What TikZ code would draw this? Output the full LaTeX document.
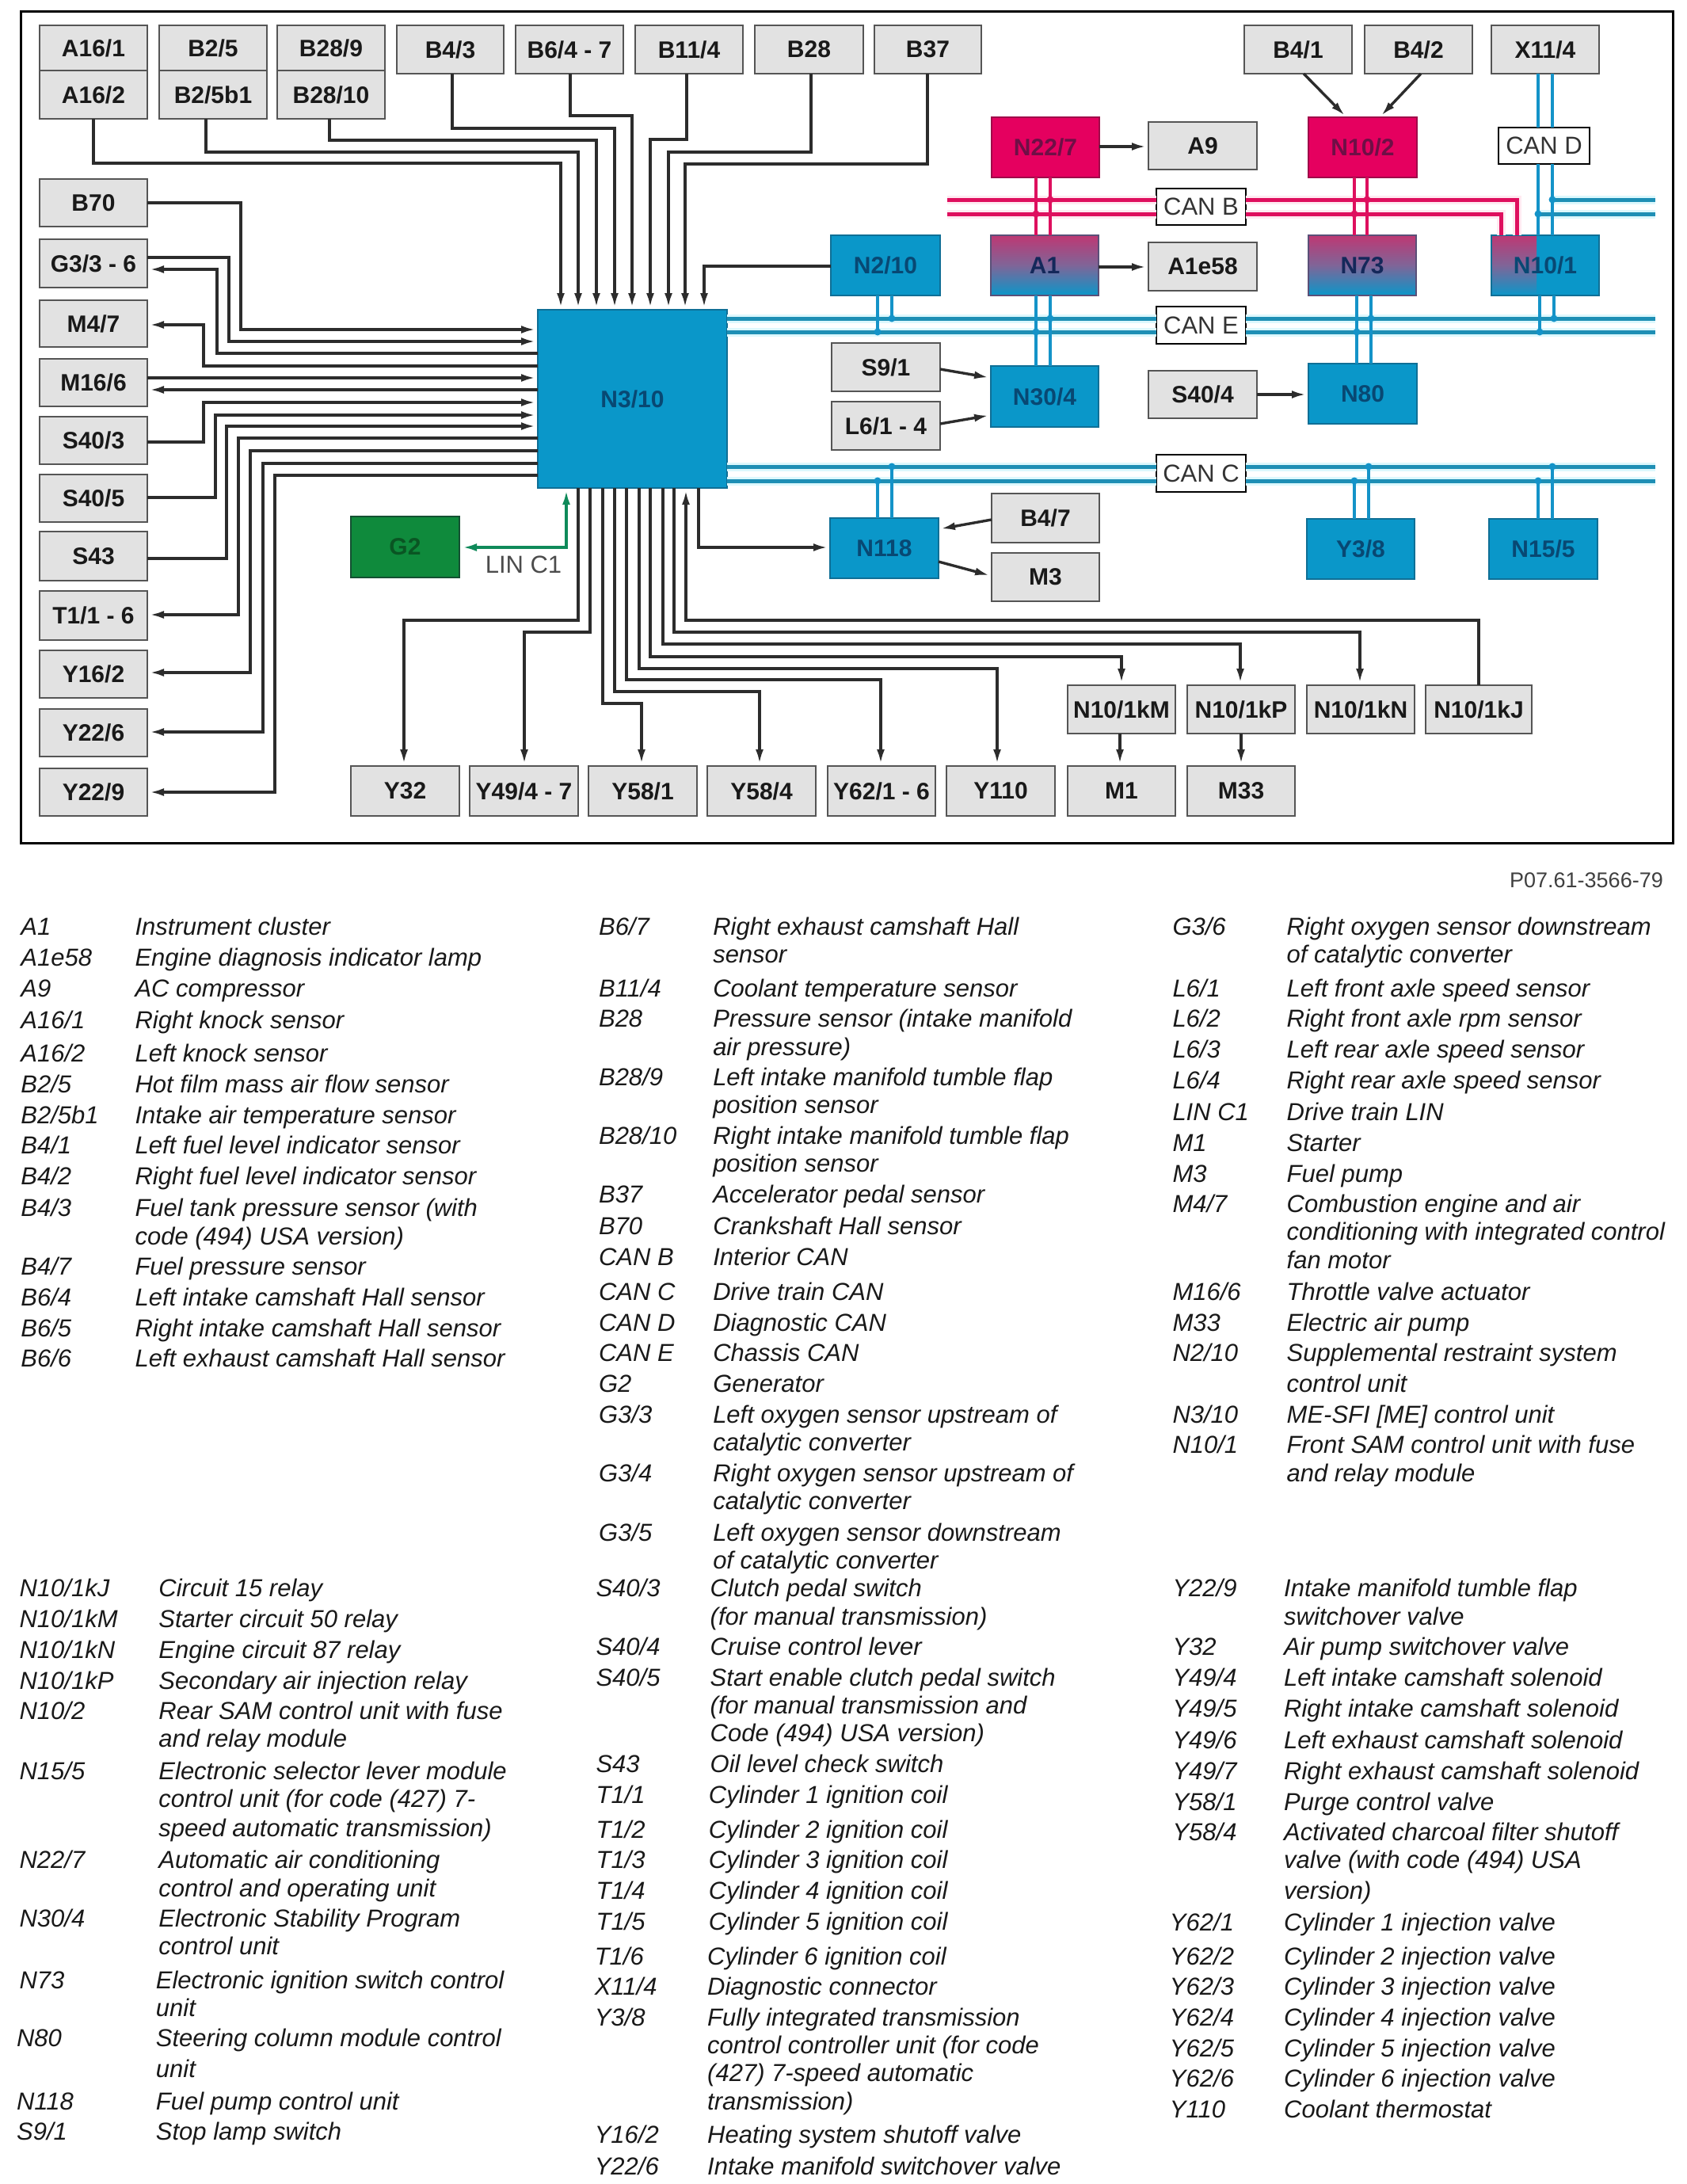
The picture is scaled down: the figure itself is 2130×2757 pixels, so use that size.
\documentclass[tikz,border=0pt]{standalone}
\usepackage{fontspec}
\setmainfont{Liberation Sans}
\usetikzlibrary{arrows.meta,calc}
\definecolor{gfill}{HTML}{E2E2E2}
\definecolor{gline}{HTML}{555555}
\definecolor{bfill}{HTML}{0A97C9}
\definecolor{bline}{HTML}{0F6F96}
\definecolor{pfill}{HTML}{E5005F}
\definecolor{pline}{HTML}{A00A4A}
\definecolor{gnfill}{HTML}{0F8A3C}
\definecolor{wire}{HTML}{2C2C2C}
\definecolor{busb}{HTML}{1E8FB5}
\definecolor{vbus}{HTML}{1493C8}
\definecolor{busp}{HTML}{DE0F5E}
\definecolor{halob}{HTML}{DDF8FD}
\definecolor{halop}{HTML}{FFEAF1}
\definecolor{lintxt}{HTML}{0F8A5A}
\definecolor{mtop}{HTML}{BE3873}
\definecolor{mmid}{HTML}{7F6598}
\newcounter{lgn}
\newcommand\bx[7]{%
 \pgfmathsetmacro\bxw{#5-#3}\pgfmathsetmacro\bxh{#6-#4}%
 \pgfmathsetmacro\bxc{(#3+#5)/2}\pgfmathsetmacro\byc{(#4+#6)/2}%
 \node[#1,minimum width=\bxw pt,minimum height=\bxh pt] (#2) at (\bxc,\byc) {#7};}
\newcommand\setcol[2]{\def\xA{#1}\def\xB{#2}}
\newcommand\EE[3]{%
 \stepcounter{lgn}%
 \pgfmathsetmacro\ly{#1*1.7583+11.5}\pgfmathsetmacro\la{\xA*1.7583}\pgfmathsetmacro\lb{\xB*1.7583}%
 \node[lgt] (lc\arabic{lgn}) at (\la,\ly) {#2};
 \node[lgt] (lt\arabic{lgn}) at (\lb,\ly) {#3};}
\newcommand\CC[2]{%
 \stepcounter{lgn}%
 \pgfmathsetmacro\ly{#1*1.7583+11.5}\pgfmathsetmacro\lb{\xB*1.7583}%
 \node[lgt] (lt\arabic{lgn}) at (\lb,\ly) {#2};}
\begin{document}
\begin{tikzpicture}[x=1pt,y=-1pt,
 boxbase/.style={draw,inner sep=0pt,outer sep=0pt,line width=2.8pt,font=\fontsize{30}{36}\selectfont\bfseries},
 gbox/.style={boxbase,fill=gfill,draw=gline,text=black!90},
 bbox/.style={boxbase,fill=bfill,draw=bline,text={rgb,255:red,8;green,72;blue,115}},
 pbox/.style={boxbase,fill=pfill,draw=pline,text={rgb,255:red,110;green,15;blue,70}},
 mbox/.style={boxbase,top color=mtop,bottom color=bfill,middle color=mmid,draw={rgb,255:red,90;green,80;blue,120},text={rgb,255:red,20;green,40;blue,90}},
 grbox/.style={boxbase,fill=gnfill,draw={rgb,255:red,20;green,80;blue,50},text={rgb,255:red,10;green,85;blue,35}},
 canbox/.style={draw=black,fill=white,line width=2.6pt,inner sep=0pt,outer sep=0pt,font=\fontsize{31}{36}\selectfont,text=black!80},
 conn/.style={draw=wire,line width=3.4pt,line join=miter},
 arr/.style={conn,-{Latex[length=18pt,width=10pt]},shorten >=3pt},
 greenarr/.style={draw=lintxt,line width=3.4pt,{Latex[length=18pt,width=10pt]}-{Latex[length=18pt,width=10pt]},shorten >=3pt,shorten <=4pt},
 bh/.style={draw=busb,line width=5pt,preaction={draw=halob,line width=11pt}},
 ph/.style={draw=busp,line width=5pt,preaction={draw=halop,line width=11pt}},
 bv/.style={draw=vbus,line width=3.5pt},
 pv/.style={draw=busp,line width=3.5pt},
 lgt/.style={anchor=base west,inner sep=0pt,outer sep=0pt,font=\fontsize{31}{36}\selectfont\itshape,text=black!90},
]
\useasboundingbox (0,0) rectangle (2130,2757);
\fill[white] (0,0) rectangle (2130,2757);
\draw[black,line width=3pt] (26,14) rectangle (2112,1064);

\bx{gbox}{A161}{50}{32}{186}{89}{A16/1}
\bx{gbox}{A162}{50}{89}{186}{150}{A16/2}
\bx{gbox}{B25}{201}{32}{337}{89}{B2/5}
\bx{gbox}{B25b}{201}{89}{337}{150}{B2/5b1}
\bx{gbox}{B289}{350}{32}{486}{89}{B28/9}
\bx{gbox}{B2810}{350}{89}{486}{150}{B28/10}
\bx{gbox}{B43}{501}{32}{636}{93}{B4/3}
\bx{gbox}{B647}{651}{32}{787}{93}{B6/4 - 7}
\bx{gbox}{B114}{802}{32}{938}{93}{B11/4}
\bx{gbox}{B28}{953}{32}{1090}{93}{B28}
\bx{gbox}{B37}{1104}{32}{1239}{93}{B37}
\bx{gbox}{B70}{50}{226}{186}{286}{B70}
\bx{gbox}{G33}{50}{302}{186}{363}{G3/3 - 6}
\bx{gbox}{M47}{50}{379}{186}{438}{M4/7}
\bx{gbox}{M166}{50}{453}{186}{513}{M16/6}
\bx{gbox}{S403}{50}{526}{186}{586}{S40/3}
\bx{gbox}{S405}{50}{599}{186}{659}{S40/5}
\bx{gbox}{S43}{50}{671}{186}{733}{S43}
\bx{gbox}{T11}{50}{746}{186}{808}{T1/1 - 6}
\bx{gbox}{Y162}{50}{821}{186}{881}{Y16/2}
\bx{gbox}{Y226}{50}{895}{186}{955}{Y22/6}
\bx{gbox}{Y229}{50}{970}{186}{1030}{Y22/9}
\bx{bbox}{N310}{679}{391}{918}{616}{N3/10}
\bx{grbox}{G2}{443}{652}{580}{729}{G2}
\bx{gbox}{Y32}{443}{967}{580}{1030}{Y32}
\bx{gbox}{Y49}{593}{967}{730}{1030}{Y49/4 - 7}
\bx{gbox}{Y581}{743}{967}{880}{1030}{Y58/1}
\bx{gbox}{Y584}{893}{967}{1030}{1030}{Y58/4}
\bx{gbox}{Y62}{1045}{967}{1181}{1030}{Y62/1 - 6}
\bx{gbox}{Y110}{1195}{967}{1332}{1030}{Y110}
\bx{gbox}{M1}{1348}{967}{1484}{1030}{M1}
\bx{gbox}{M33}{1499}{967}{1635}{1030}{M33}
\bx{gbox}{kM}{1348}{865}{1484}{926}{N10/1kM}
\bx{gbox}{kP}{1499}{865}{1635}{926}{N10/1kP}
\bx{gbox}{kN}{1650}{865}{1786}{926}{N10/1kN}
\bx{gbox}{kJ}{1800}{865}{1934}{926}{N10/1kJ}
\bx{bbox}{N118}{1048}{654}{1185}{730}{N118}
\bx{bbox}{Y38}{1650}{655}{1786}{731}{Y3/8}
\bx{bbox}{N155}{1880}{655}{2017}{731}{N15/5}
\bx{gbox}{B47}{1252}{623}{1388}{685}{B4/7}
\bx{gbox}{M3}{1252}{698}{1388}{759}{M3}
\bx{pbox}{N227}{1252}{148}{1388}{224}{N22/7}
\bx{gbox}{A9}{1450}{154}{1587}{214}{A9}
\bx{pbox}{N102}{1652}{148}{1789}{224}{N10/2}
\bx{gbox}{B41}{1571}{32}{1707}{93}{B4/1}
\bx{gbox}{B42}{1723}{32}{1859}{93}{B4/2}
\bx{gbox}{X114}{1883}{32}{2019}{93}{X11/4}
\bx{bbox}{N210}{1049}{297}{1187}{373}{N2/10}
\bx{mbox}{A1}{1251}{297}{1387}{373}{A1}
\bx{gbox}{A1e}{1450}{306}{1587}{367}{A1e58}
\bx{mbox}{N73}{1652}{297}{1788}{373}{N73}
\bx{bbox,path picture={\fill[top color=mtop,bottom color=bfill,middle color=mmid] (path picture bounding box.north west) rectangle ($(path picture bounding box.south west)+(57,0)$);}}{N101}{1883}{297}{2019}{373}{N10/1}
\bx{gbox}{S91}{1050}{433}{1187}{494}{S9/1}
\bx{gbox}{L61}{1050}{507}{1187}{568}{L6/1 - 4}
\bx{bbox}{N304}{1251}{462}{1387}{539}{N30/4}
\bx{gbox}{S404}{1450}{468}{1587}{528}{S40/4}
\bx{bbox}{N80}{1652}{459}{1789}{535}{N80}

\coordinate (busL) at (1196,0);
\coordinate (busR) at (2090,0);

% top wires into N3/10
\draw[arr] (A162.south) -- (118,206) -- (708,206) -- (N310.north -| 708,0);
\draw[arr] (B25b.south -| 260,0) -- (260,192) -- (730,192) -- (N310.north -| 730,0);
\draw[arr] (B2810.south -| 416,0) -- (416,177) -- (753,177) -- (N310.north -| 753,0);
\draw[arr] (B43.south -| 571,0) -- (571,162) -- (776,162) -- (N310.north -| 776,0);
\draw[arr] (B647.south -| 720,0) -- (720,146) -- (798,146) -- (N310.north -| 798,0);
\draw[arr] (B114.south -| 867,0) -- (867,176) -- (821,176) -- (N310.north -| 821,0);
\draw[arr] (B28.south -| 1024,0) -- (1024,192) -- (844,192) -- (N310.north -| 844,0);
\draw[arr] (B37.south -| 1171,0) -- (1171,207) -- (865,207) -- (N310.north -| 865,0);
\draw[arr] (N210.west |- 0,336) -- (889,336) -- (N310.north -| 889,0);

% left wires
\draw[arr] (B70.east) -- (304,256) -- (304,416) -- (N310.west |- 0,416);
\draw[arr] (G33.east |- 0,325) -- (289,325) -- (289,431) -- (N310.west |- 0,431);
\draw[arr] (N310.west |- 0,446) -- (274,446) -- (274,340) -- (G33.east |- 0,340);
\draw[arr] (N310.west |- 0,462) -- (257,462) -- (257,410) -- (M47.east |- 0,410);
\draw[arr] (M166.east |- 0,477) -- (N310.west |- 0,477);
\draw[arr] (N310.west |- 0,492) -- (M166.east |- 0,492);
\draw[arr] (S403.east |- 0,558) -- (257,558) -- (257,508) -- (N310.west |- 0,508);
\draw[arr] (S405.east |- 0,628) -- (272,628) -- (272,524) -- (N310.west |- 0,524);
\draw[arr] (S43.east |- 0,705) -- (286,705) -- (286,538) -- (N310.west |- 0,538);
\draw[arr] (N310.west |- 0,553) -- (301,553) -- (301,776) -- (T11.east |- 0,776);
\draw[arr] (N310.west |- 0,569) -- (316,569) -- (316,849) -- (Y162.east |- 0,849);
\draw[arr] (N310.west |- 0,585) -- (332,585) -- (332,924) -- (Y226.east |- 0,924);
\draw[arr] (N310.west |- 0,600) -- (347,600) -- (347,1000) -- (Y229.east |- 0,1000);

% bottom wires
\draw[arr] (N310.south -| 730,0) -- (730,783) -- (510,783) -- (Y32.north -| 510,0);
\draw[arr] (N310.south -| 745,0) -- (745,798) -- (662,798) -- (Y49.north -| 662,0);
\draw[arr] (N310.south -| 761,0) -- (761,888) -- (810,888) -- (Y581.north -| 810,0);
\draw[arr] (N310.south -| 776,0) -- (776,873) -- (959,873) -- (Y584.north -| 959,0);
\draw[arr] (N310.south -| 791,0) -- (791,858) -- (1112,858) -- (Y62.north -| 1112,0);
\draw[arr] (N310.south -| 807,0) -- (807,844) -- (1259,844) -- (Y110.north -| 1259,0);
\draw[arr] (N310.south -| 821,0) -- (821,829) -- (1416,829) -- (kM.north -| 1416,0);
\draw[arr] (N310.south -| 837,0) -- (837,813) -- (1566,813) -- (kP.north -| 1566,0);
\draw[arr] (N310.south -| 851,0) -- (851,798) -- (1717,798) -- (kN.north -| 1717,0);
\draw[arr] (kJ.north -| 1867,0) -- (1867,783) -- (866,783) -- (N310.south -| 866,0);
\draw[arr] (N310.south -| 882,0) -- (882,691) -- (N118.west |- 0,691);
\draw[arr] (kM.south -| 1414,0) -- (M1.north -| 1414,0);
\draw[arr] (kP.south -| 1567,0) -- (M33.north -| 1567,0);
\draw[greenarr] (G2.east |- 0,691) -- (715,691) -- (N310.south -| 715,0);
\node[inner sep=0pt,font=\fontsize{31}{36}\selectfont,text=black!70] (linc) at (661,713) {LIN C1};

% small arrows
\draw[arr] (N227.east |- 0,185) -- (A9.west |- 0,185);
\draw[arr] (A1.east |- 0,337) -- (A1e.west |- 0,337);
\draw[arr] (S404.east |- 0,498) -- (N80.west |- 0,498);
\draw[arr] (S91.east |- 0,466) -- (N304.west |- 0,477);
\draw[arr] (L61.east |- 0,535) -- (N304.west |- 0,524);
\draw[arr] (B47.west |- 0,656) -- (N118.east |- 0,668);
\draw[arr] (N118.east |- 0,709) -- (M3.west |- 0,727);
\draw[arr] (B41.south -| 1646,0) -- (N102.north -| 1700,0);
\draw[arr] (B42.south -| 1794,0) -- (N102.north -| 1742,0);

% CAN labels
\bx{canbox}{CANB}{1460}{238}{1573}{284}{CAN B}
\bx{canbox}{CANE}{1460}{387}{1573}{434}{CAN E}
\bx{canbox}{CANC}{1460}{574}{1573}{621}{CAN C}
\bx{canbox}{CAND}{1892}{161}{2007}{207}{CAN D}

% buses
\draw[ph] (busL |- 0,252) -- (CANB.west |- 0,252);
\draw[ph] (busL |- 0,270) -- (CANB.west |- 0,270);
\draw[ph] (CANB.east |- 0,252) -- (1915,252) -- (N101.north -| 1915,0);
\draw[ph] (CANB.east |- 0,270) -- (1895,270) -- (N101.north -| 1895,0);
\draw[bh] (N310.east |- 0,402) -- (CANE.west |- 0,402);
\draw[bh] (N310.east |- 0,419) -- (CANE.west |- 0,419);
\draw[bh] (CANE.east |- 0,402) -- (busR |- 0,402);
\draw[bh] (CANE.east |- 0,419) -- (busR |- 0,419);
\draw[bh] (N310.east |- 0,589) -- (CANC.west |- 0,589);
\draw[bh] (N310.east |- 0,607) -- (CANC.west |- 0,607);
\draw[bh] (CANC.east |- 0,589) -- (busR |- 0,589);
\draw[bh] (CANC.east |- 0,607) -- (busR |- 0,607);
\draw[bh] (1960,252) -- (busR |- 0,252);
\draw[bh] (1942,270) -- (busR |- 0,270);

% verticals
\draw[pv] (N227.south -| 1308,0) -- (A1.north -| 1308,0);
\draw[pv] (N227.south -| 1326,0) -- (A1.north -| 1326,0);
\draw[pv] (N102.south -| 1710,0) -- (N73.north -| 1710,0);
\draw[pv] (N102.south -| 1726,0) -- (N73.north -| 1726,0);
\draw[bv] (X114.south -| 1942,0) -- (CAND.north -| 1942,0);
\draw[bv] (X114.south -| 1960,0) -- (CAND.north -| 1960,0);
\draw[bv] (CAND.south -| 1942,0) -- (N101.north -| 1942,0);
\draw[bv] (CAND.south -| 1960,0) -- (N101.north -| 1960,0);
\draw[bv] (N210.south -| 1108,0) -- (1108,419);
\draw[bv] (N210.south -| 1126,0) -- (1126,402);
\draw[bv] (A1.south -| 1308,0) -- (N304.north -| 1308,0);
\draw[bv] (A1.south -| 1326,0) -- (N304.north -| 1326,0);
\draw[bv] (N73.south -| 1713,0) -- (N80.north -| 1713,0);
\draw[bv] (N73.south -| 1731,0) -- (N80.north -| 1731,0);
\draw[bv] (N101.south -| 1944,0) -- (1944,419);
\draw[bv] (N101.south -| 1962,0) -- (1962,402);
\draw[bv] (N118.north -| 1108,0) -- (1108,607);
\draw[bv] (N118.north -| 1126,0) -- (1126,586);
\draw[bv] (Y38.north -| 1710,0) -- (1710,607);
\draw[bv] (Y38.north -| 1728,0) -- (1728,586);
\draw[bv] (N155.north -| 1942,0) -- (1942,607);
\draw[bv] (N155.north -| 1960,0) -- (1960,586);
\foreach \p in {(1326,252),(1308,270),(1726,252),(1710,270)} \fill[busp] \p circle (4.5pt);
\foreach \p in {(1108,419),(1126,402),(1308,419),(1326,402),(1713,419),(1731,402),(1944,419),(1962,402),(1108,607),(1126,589),(1710,607),(1728,589),(1942,607),(1960,589),(1960,252),(1942,270)} \fill[vbus] \p circle (4.5pt);

\node[anchor=base east,inner sep=0pt,font=\fontsize{27}{32}\selectfont,text=black!75] (pref) at (2100,1120) {P07.61-3566-79};

% legend
\setcol{15}{97}
\EE{665}{A1}{Instrument cluster}
\EE{687}{A1e58}{Engine diagnosis indicator lamp}
\EE{709}{A9}{AC compressor}
\EE{732}{A16/1}{Right knock sensor}
\EE{756}{A16/2}{Left knock sensor}
\EE{778}{B2/5}{Hot film mass air flow sensor}
\EE{800}{B2/5b1}{Intake air temperature sensor}
\EE{822}{B4/1}{Left fuel level indicator sensor}
\EE{844}{B4/2}{Right fuel level indicator sensor}
\EE{867}{B4/3}{Fuel tank pressure sensor (with}
\CC{887}{code (494) USA version)}
\EE{909}{B4/7}{Fuel pressure sensor}
\EE{931}{B6/4}{Left intake camshaft Hall sensor}
\EE{953}{B6/5}{Right intake camshaft Hall sensor}
\EE{975}{B6/6}{Left exhaust camshaft Hall sensor}
\setcol{430}{512}
\EE{665}{B6/7}{Right exhaust camshaft Hall}
\CC{685}{sensor}
\EE{709}{B11/4}{Coolant temperature sensor}
\EE{731}{B28}{Pressure sensor (intake manifold}
\CC{751}{air pressure)}
\EE{773}{B28/9}{Left intake manifold tumble flap}
\CC{793}{position sensor}
\EE{815}{B28/10}{Right intake manifold tumble flap}
\CC{835}{position sensor}
\EE{857}{B37}{Accelerator pedal sensor}
\EE{880}{B70}{Crankshaft Hall sensor}
\EE{902}{CAN B}{Interior CAN}
\EE{927}{CAN C}{Drive train CAN}
\EE{949}{CAN D}{Diagnostic CAN}
\EE{971}{CAN E}{Chassis CAN}
\EE{993}{G2}{Generator}
\EE{1015}{G3/3}{Left oxygen sensor upstream of}
\CC{1035}{catalytic converter}
\EE{1057}{G3/4}{Right oxygen sensor upstream of}
\CC{1077}{catalytic converter}
\EE{1100}{G3/5}{Left oxygen sensor downstream}
\CC{1120}{of catalytic converter}
\setcol{842}{924}
\EE{665}{G3/6}{Right oxygen sensor downstream}
\CC{685}{of catalytic converter}
\EE{709}{L6/1}{Left front axle speed sensor}
\EE{731}{L6/2}{Right front axle rpm sensor}
\EE{753}{L6/3}{Left rear axle speed sensor}
\EE{775}{L6/4}{Right rear axle speed sensor}
\EE{798}{LIN C1}{Drive train LIN}
\EE{820}{M1}{Starter}
\EE{842}{M3}{Fuel pump}
\EE{864}{M4/7}{Combustion engine and air}
\CC{884}{conditioning with integrated control}
\CC{904}{fan motor}
\EE{927}{M16/6}{Throttle valve actuator}
\EE{949}{M33}{Electric air pump}
\EE{971}{N2/10}{Supplemental restraint system}
\CC{993}{control unit}
\EE{1015}{N3/10}{ME-SFI [ME] control unit}
\EE{1037}{N10/1}{Front SAM control unit with fuse}
\CC{1057}{and relay module}
\setcol{14}{114}
\EE{1140}{N10/1kJ}{Circuit 15 relay}
\EE{1162}{N10/1kM}{Starter circuit 50 relay}
\EE{1184}{N10/1kN}{Engine circuit 87 relay}
\EE{1206}{N10/1kP}{Secondary air injection relay}
\EE{1228}{N10/2}{Rear SAM control unit with fuse}
\CC{1248}{and relay module}
\EE{1271}{N15/5}{Electronic selector lever module}
\CC{1291}{control unit (for code (427) 7-}
\CC{1312}{speed automatic transmission)}
\EE{1335}{N22/7}{Automatic air conditioning}
\CC{1355}{control and operating unit}
\EE{1377}{N30/4}{Electronic Stability Program}
\CC{1397}{control unit}
\setcol{14}{112}
\EE{1421}{N73}{Electronic ignition switch control}
\CC{1441}{unit}
\setcol{12}{112}
\EE{1463}{N80}{Steering column module control}
\CC{1485}{unit}
\EE{1508}{N118}{Fuel pump control unit}
\EE{1530}{S9/1}{Stop lamp switch}
\setcol{428}{510}
\EE{1140}{S40/3}{Clutch pedal switch}
\CC{1160}{(for manual transmission)}
\EE{1182}{S40/4}{Cruise control lever}
\EE{1204}{S40/5}{Start enable clutch pedal switch}
\CC{1224}{(for manual transmission and}
\CC{1244}{Code (494) USA version)}
\EE{1266}{S43}{Oil level check switch}
\setcol{428}{509}
\EE{1288}{T1/1}{Cylinder 1 ignition coil}
\EE{1313}{T1/2}{Cylinder 2 ignition coil}
\EE{1335}{T1/3}{Cylinder 3 ignition coil}
\EE{1357}{T1/4}{Cylinder 4 ignition coil}
\EE{1379}{T1/5}{Cylinder 5 ignition coil}
\setcol{427}{508}
\EE{1404}{T1/6}{Cylinder 6 ignition coil}
\EE{1426}{X11/4}{Diagnostic connector}
\EE{1448}{Y3/8}{Fully integrated transmission}
\CC{1468}{control controller unit (for code}
\CC{1488}{(427) 7-speed automatic}
\CC{1508}{transmission)}
\EE{1532}{Y16/2}{Heating system shutoff valve}
\EE{1555}{Y22/6}{Intake manifold switchover valve}
\setcol{842}{922}
\EE{1140}{Y22/9}{Intake manifold tumble flap}
\CC{1160}{switchover valve}
\EE{1182}{Y32}{Air pump switchover valve}
\EE{1204}{Y49/4}{Left intake camshaft solenoid}
\EE{1226}{Y49/5}{Right intake camshaft solenoid}
\EE{1249}{Y49/6}{Left exhaust camshaft solenoid}
\EE{1271}{Y49/7}{Right exhaust camshaft solenoid}
\EE{1293}{Y58/1}{Purge control valve}
\EE{1315}{Y58/4}{Activated charcoal filter shutoff}
\CC{1335}{valve (with code (494) USA}
\CC{1357}{version)}
\setcol{840}{922}
\EE{1380}{Y62/1}{Cylinder 1 injection valve}
\EE{1404}{Y62/2}{Cylinder 2 injection valve}
\EE{1426}{Y62/3}{Cylinder 3 injection valve}
\EE{1448}{Y62/4}{Cylinder 4 injection valve}
\EE{1470}{Y62/5}{Cylinder 5 injection valve}
\EE{1492}{Y62/6}{Cylinder 6 injection valve}
\EE{1514}{Y110}{Coolant thermostat}
\end{tikzpicture}
\end{document}
